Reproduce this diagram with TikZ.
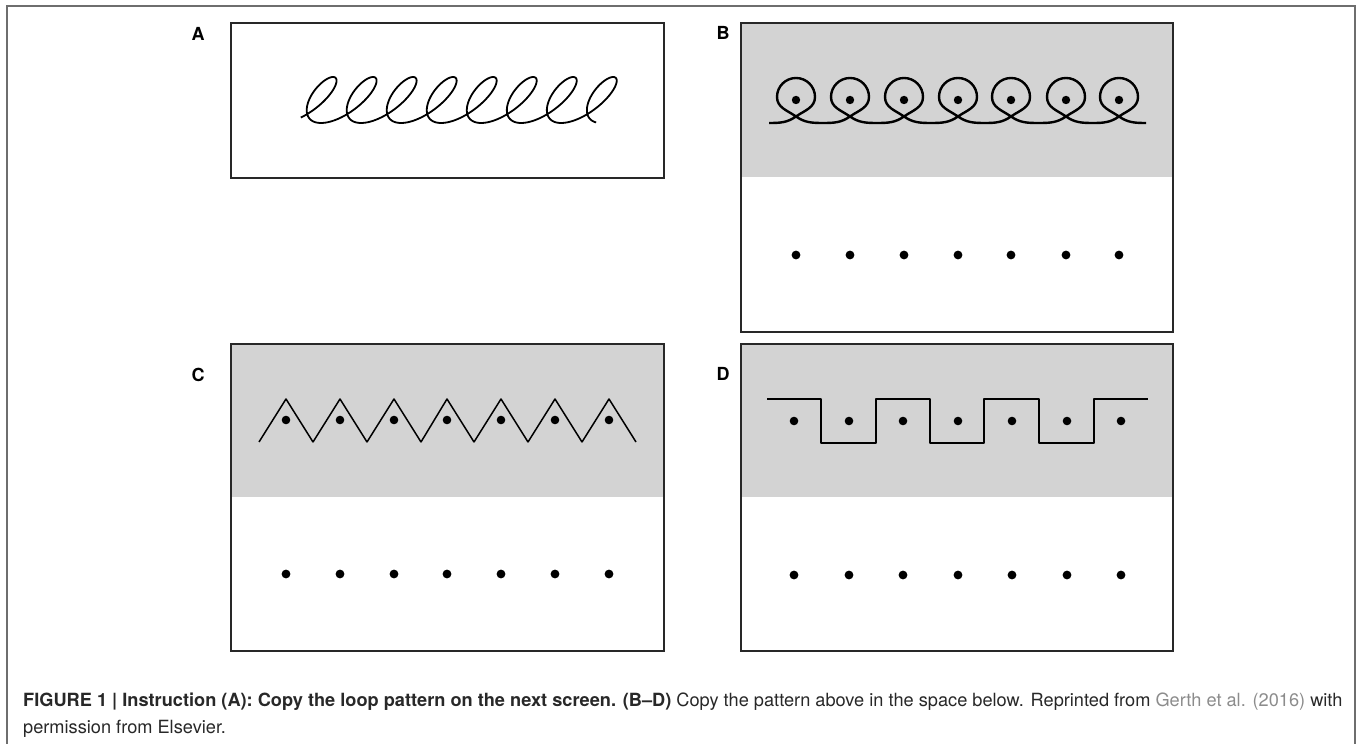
\documentclass[tikz,border=0pt]{standalone}
\usepackage{fontspec}
\setmainfont{TeX Gyre Heros}
\definecolor{panelgray}{RGB}{211,211,211}
\definecolor{framegray}{RGB}{110,110,110}
\definecolor{citegray}{RGB}{140,140,140}
\definecolor{inkgray}{RGB}{40,40,40}
\begin{document}
\begin{tikzpicture}[x=1pt,y=1pt,
  panel/.style={draw=inkgray, line width=1.8pt},
  pen/.style={line width=2pt, black, line join=round},
  lbl/.style={font=\fontsize{18}{18}\selectfont\bfseries, inner sep=0pt},
  caption/.style={anchor=base west, inner sep=0pt, font=\fontsize{18.2}{18.2}\selectfont, text=inkgray}]
\useasboundingbox (0,0) rectangle (1360,744);
\draw[framegray, line width=1.5pt] (7,0) -- (7,738) -- (1355,738) -- (1355,0);

% panel A
\node[lbl] (A) at (198,710) {A};
\draw[panel] (231,566) rectangle (664,721);
\draw[pen, line width=1.8pt] plot[domain=0.7:50.05, samples=700, smooth, variable=\t]
  ({297 + 6.37*\t + 18*sin(\t r) - 16*cos(\t r)}, {644 - 23*cos(\t r)});

% panel B
\node[lbl] (B) at (723,711) {B};
\fill[panelgray] (741,567) rectangle (1173,721);
\draw[panel] (741,412) rectangle (1173,721);
\draw[pen, line width=2.4pt] (769,621)
  \foreach \cx in {796,850,904,958,1011,1066,1119}{
    to[out=0,in=215] (\cx,627.5) to[out=35,in=-90] (\cx+19,647)
    to[out=90,in=0] (\cx,666) to[out=180,in=90] (\cx-19,647)
    to[out=-90,in=145] (\cx,627.5) to[out=-35,in=180] (\cx+27,621)};
\foreach \cx in {796,850,904,958,1011,1066,1119}{
  \fill (\cx,644) circle (4.2);
  \fill (\cx,489) circle (4.4);
}

% panel C
\node[lbl] (C) at (198,369) {C};
\fill[panelgray] (231,247) rectangle (664,400);
\draw[panel] (231,93) rectangle (664,400);
\draw[pen, line width=1.5pt] (259,302)
  \foreach \px in {286,340,394,447,501,555,609}{ -- (\px,345) -- (\px+27,302)};
\foreach \px in {286,340,394,447,501,555,609}{
  \fill (\px,324) circle (4.3);
  \fill (\px,170) circle (4.4);
}

% panel D
\node[lbl] (D) at (723,370) {D};
\fill[panelgray] (741,247) rectangle (1173,400);
\draw[panel] (741,93) rectangle (1173,400);
\draw[pen, line width=2pt] (767,345) -- (821,345) -- (821,301) -- (876,301) -- (876,345)
  -- (930,345) -- (930,301) -- (984,301) -- (984,345) -- (1039,345) -- (1039,301)
  -- (1094,301) -- (1094,345) -- (1148,345);
\foreach \dx in {794,849,903,958,1012,1067,1121}{
  \fill (\dx,323) circle (4.3);
  \fill (\dx,169) circle (4.4);
}

% caption
\node[caption] (cap1) at (23,37) {\textbf{FIGURE 1 | Instruction (A): Copy the loop pattern on the next screen. (B--D)} Copy the pattern above in the space below. Reprinted from \textcolor{citegray}{Gerth et al. (2016)} with};
\node[caption] (cap2) at (23,10) {permission from Elsevier.};
\end{tikzpicture}
\end{document}
